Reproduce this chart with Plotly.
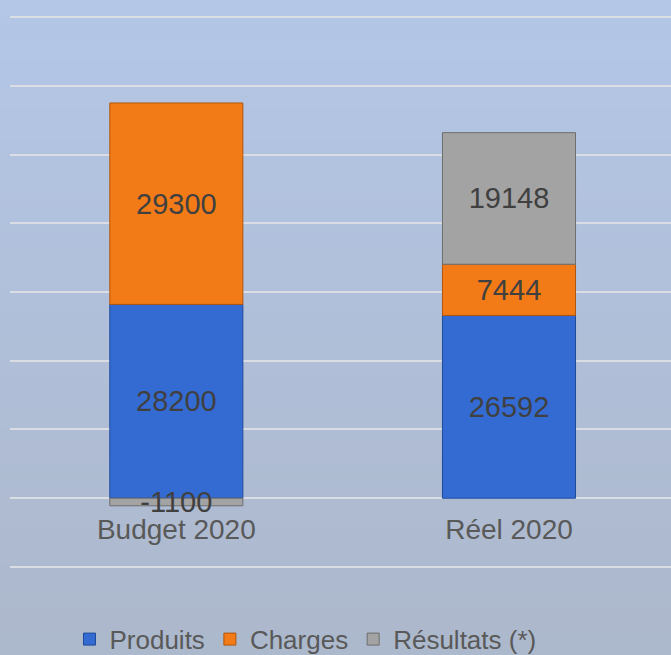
import plotly.graph_objects as go

categories = ["Budget 2020", "Réel 2020"]
produits = [28200, 26592]
charges = [29300, 7444]
resultats = [-1100, 19148]

series_names = ["Produits", "Charges", "Résultats (*)"]
series_values = [produits, charges, resultats]
series_colors = ["#346BD3", "#F27B17", "#A3A3A3"]
series_lines = ["#1F4A9A", "#B0560C", "#6E6E6E"]

FONT = "Liberation Sans, Arial, sans-serif"

fig = go.Figure()
for name, vals, col, lc in zip(series_names, series_values, series_colors, series_lines):
    fig.add_trace(go.Bar(
        x=categories, y=vals, name=name,
        marker=dict(color=col, line=dict(color=lc, width=1)),
        width=0.4,
        text=[str(v) for v in vals],
        textposition="inside", insidetextanchor="middle",
        textfont=dict(size=29, color="#404040", family=FONT),
        cliponaxis=False,
    ))

# vertical background gradient
shapes = []
n = 60
top = (180, 199, 231)
bot = (172, 183, 202)
y0p, y1p = -0.2, 1.04
for i in range(n):
    t = i / (n - 1)
    c = tuple(round(top[k] + (bot[k] - top[k]) * t) for k in range(3))
    ya = y1p - (y1p - y0p) * i / n
    yb = y1p - (y1p - y0p) * (i + 1) / n
    shapes.append(dict(type="rect", xref="paper", yref="paper", x0=-0.05, x1=1.05,
                       y0=yb, y1=ya, fillcolor="rgb(%d,%d,%d)" % c,
                       line=dict(width=0), layer="below"))

fig.update_layout(
    width=671, height=655,
    margin=dict(l=10, r=0, t=16, b=87, autoexpand=False),
    paper_bgcolor="rgb(176,190,215)",
    plot_bgcolor="rgba(0,0,0,0)",
    barmode="relative",
    shapes=shapes,
    font=dict(family=FONT, color="#595959"),
    uniformtext=dict(minsize=29, mode="show"),
    showlegend=True,
    legend=dict(orientation="h", x=0.09, xanchor="left", y=-0.129, yanchor="middle",
                font=dict(size=26, color="#595959", family=FONT),
                bgcolor="rgba(0,0,0,0)", traceorder="normal", itemwidth=30),
    xaxis=dict(type="category", range=[-0.5, 1.487], showgrid=False, showline=False,
               ticks="", tickfont=dict(size=28, color="#595959", family=FONT),
               anchor="free", position=0.1265, zeroline=False, ticklabelstandoff=12),
    yaxis=dict(range=[-10150, 70150], dtick=10000, showticklabels=False,
               showgrid=True, gridcolor="rgb(218,221,228)", gridwidth=2,
               zeroline=False, showline=False),
)

fig.write_html("out.html", config={"displayModeBar": False},
               post_script="document.body.style.margin='0';")
